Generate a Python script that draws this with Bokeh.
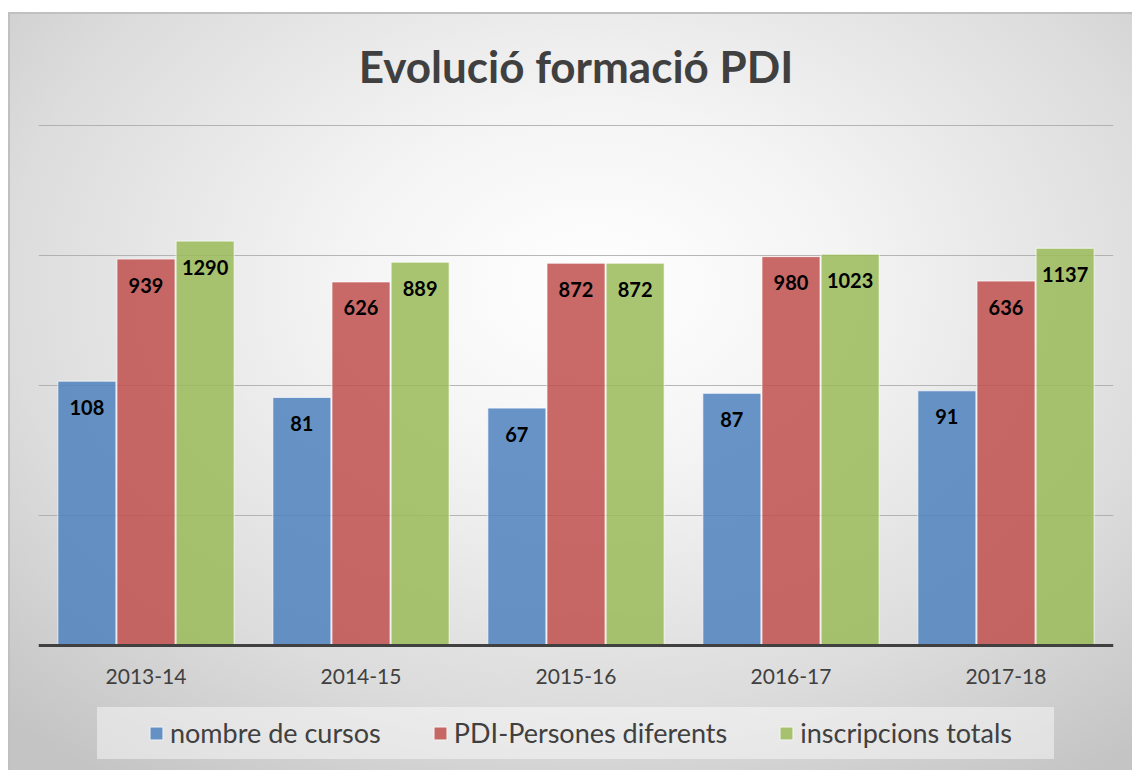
from bokeh.plotting import figure
from bokeh.models import ColumnDataSource, FactorRange, FixedTicker, LabelSet, Legend, LegendItem, Span
from bokeh.core.properties import value
from bokeh.transform import dodge
from bokeh.embed import file_html
from bokeh.resources import INLINE

years = ["2013-14", "2014-15", "2015-16", "2016-17", "2017-18"]
cursos = [108, 81, 67, 87, 91]
persones = [939, 626, 872, 980, 636]
inscripcions = [1290, 889, 872, 1023, 1137]
series_names = ["nombre de cursos", "PDI-Persones diferents", "inscripcions totals"]
series_keys = ["cursos", "persones", "inscripcions"]
colors = ["#4F81BD", "#C0504D", "#9BBB59"]
offsets = [-0.275, 0.0, 0.275]
grid_ticks = [10, 100, 1000, 10000]
baseline = 1

FONT = "Lato"
TXT = "#404040"

src = ColumnDataSource(dict(
    year=years,
    base=[baseline] * len(years),
    cursos=cursos, persones=persones, inscripcions=inscripcions,
    cursos_t=[str(v) for v in cursos],
    persones_t=[str(v) for v in persones],
    inscripcions_t=[str(v) for v in inscripcions],
))

css = """
:host {
  background:
    linear-gradient(rgba(255,255,255,0.45), rgba(255,255,255,0.45)) 97px 707px / 957px 52px no-repeat,
    radial-gradient(ellipse 75% 80% at 52% 36%, #ffffff 0%, #f4f4f4 30%, #dcdcdc 70%, #c4c4c4 100%) 10px 14px / 1122px 756px no-repeat,
    linear-gradient(#c0c0c0, #c0c0c0) 8px 12px / 1124px 758px no-repeat,
    #ffffff;
}
"""

# frame spans from just above the top gridline down to the bottom edge (130 px per decade)
top_dec = 4 + 2 / 130
p = figure(
    x_range=FactorRange(factors=years, range_padding=0),
    y_axis_type="log", y_range=(10 ** (top_dec - 647 / 130), 10 ** top_dec),
    frame_width=1075, frame_height=647,
    output_backend="svg", toolbar_location=None,
    min_border_left=38, min_border_right=19,
    min_border_top=123, min_border_bottom=0,
    title="Evolució formació PDI",
    stylesheets=[css],
)
p.border_fill_color = None
p.background_fill_color = None
p.outline_line_color = None

p.title.align = "center"
p.title.text_font = FONT
p.title.text_font_size = "44px"
p.title.text_font_style = "bold"
p.title.text_color = TXT
p.title.standoff = 63

p.xgrid.visible = False
p.ygrid.ticker = FixedTicker(ticks=grid_ticks)
p.ygrid.grid_line_color = "#a6a6a6"
p.ygrid.grid_line_alpha = 0.8
p.xaxis.visible = False
p.yaxis.visible = False

renderers = []
for key, col, off in zip(series_keys, colors, offsets):
    r = p.vbar(x=dodge("year", off, range=p.x_range), top=key, bottom=baseline, width=0.27,
               source=src, fill_color=col, fill_alpha=0.85,
               line_color="white", line_alpha=0.7, line_width=1)
    renderers.append(r)
    labels = LabelSet(x=dodge("year", off, range=p.x_range), y=key, text=key + "_t",
                      source=src, text_align="center", text_baseline="middle",
                      y_offset=-26, text_font=value(FONT), text_font_size=value("20px"),
                      text_font_style="bold", text_color="black")
    p.add_layout(labels)

# category axis: baseline line and year labels
p.add_layout(Span(location=baseline, dimension="width", line_color=TXT, line_width=3))
p.add_layout(LabelSet(x="year", y="base", text="year", source=src,
                      text_align="center", text_baseline="middle", y_offset=-31,
                      text_font=value(FONT), text_font_size=value("21px"),
                      text_color=TXT))

legend = Legend(
    items=[LegendItem(label=n, renderers=[r]) for n, r in zip(series_names, renderers)],
    orientation="horizontal", location=(110, 21),
    label_text_font=FONT, label_text_font_size="27px", label_text_color=TXT,
    glyph_width=16, glyph_height=16, label_standoff=6, spacing=51,
    padding=0, margin=0, background_fill_alpha=0,
    border_line_color=None,
)
p.add_layout(legend)

open("out.html", "w").write(file_html(p, INLINE))
